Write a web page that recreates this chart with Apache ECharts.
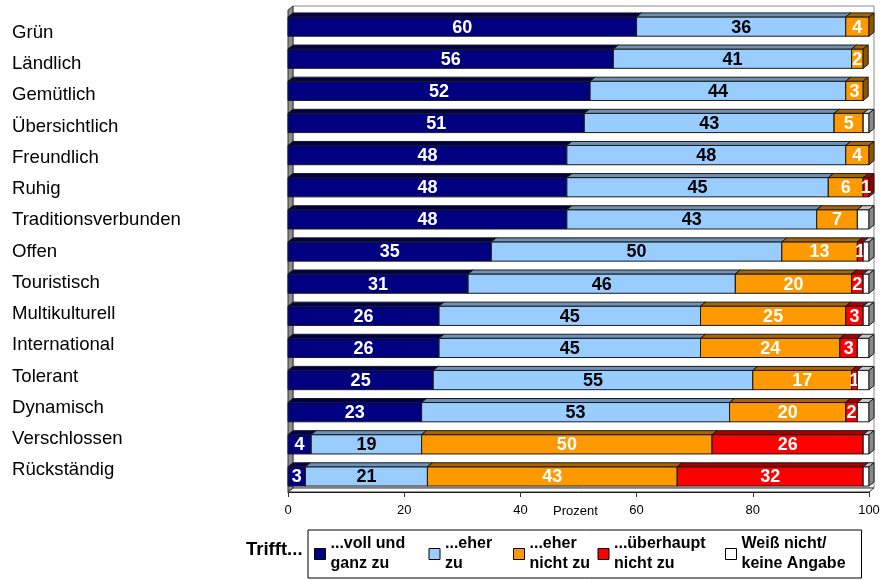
<!DOCTYPE html>
<html>
<head>
<meta charset="utf-8">
<script src="https://cdn.jsdelivr.net/npm/echarts@6/dist/echarts.min.js"></script>
<style>
  html, body { margin: 0; padding: 0; background: #fff; }
  #chart { width: 884px; height: 580px; }
</style>
</head>
<body>
<div id="chart"></div>
<script>
// Image attributes of the town, answers in percent
const categories = ['Grün', 'Ländlich', 'Gemütlich', 'Übersichtlich', 'Freundlich', 'Ruhig',
  'Traditionsverbunden', 'Offen', 'Touristisch', 'Multikulturell', 'International',
  'Tolerant', 'Dynamisch', 'Verschlossen', 'Rückständig'];
const vollUndGanz     = [60, 56, 52, 51, 48, 48, 48, 35, 31, 26, 26, 25, 23, 4, 3];
const eherZu          = [36, 41, 44, 43, 48, 45, 43, 50, 46, 45, 45, 55, 53, 19, 21];
const eherNichtZu     = [4, 2, 3, 5, 4, 6, 7, 13, 20, 25, 24, 17, 20, 50, 43];
const ueberhauptNicht = [0, 0, 0, 0, 0, 1, 0, 1, 2, 3, 3, 1, 2, 26, 32];
const weissNicht      = [0, 0, 0, 1, 0, 0, 2, 1, 1, 1, 2, 2, 2, 1, 1];
const seriesNames = ['...voll und\nganz zu', '...eher\nzu', '...eher\nnicht zu', '...überhaupt\nnicht zu', 'Weiß nicht/\nkeine Angabe'];
const axisMin = 0, axisMax = 100, axisStep = 20;

const FONT = '"Liberation Sans", Arial, Helvetica, sans-serif';
const DX = 5, DY = 4; // depth of the pseudo-3D faces

// front, top and side colours of each answer group
const palette = [
  { front: '#000080', top: '#00004a', side: '#000058', label: '#ffffff' },
  { front: '#99ccff', top: '#6f93b8', side: '#5d7c9c', label: '#000000' },
  { front: '#ff9900', top: '#a96600', side: '#8c5500', label: '#ffffff' },
  { front: '#ff0000', top: '#a80000', side: '#8c0000', label: '#ffffff' },
  { front: '#ffffff', top: '#c8c8c8', side: '#8a8a8a', label: null }
];
const groups = [vollUndGanz, eherZu, eherNichtZu, ueberhauptNicht, weissNicht];

// cumulative start/end of each segment per row
const cumulative = categories.map(() => 0);
const segmentData = groups.map(values => values.map((v, i) => {
  const start = cumulative[i];
  cumulative[i] += v;
  return [i, start, start + v, v];
}));

function barRenderer(style) {
  return function (params, api) {
    const v = api.value(3);
    if (!v) return null;
    const cat = api.value(0);
    const a = api.coord([api.value(1), cat]);
    const b = api.coord([api.value(2), cat]);
    const h = api.size([0, 1])[1] * 0.6;
    const x = a[0], w = b[0] - a[0], y = a[1] - h / 2 + 0.5;
    const stroke = '#1a1a1a';
    const children = [
      { type: 'rect', shape: { x: x, y: y, width: w, height: h },
        style: { fill: style.front, stroke: stroke, lineWidth: 1 } },
      { type: 'polygon', shape: { points: [[x, y], [x + DX, y - DY], [x + w + DX, y - DY], [x + w, y]] },
        style: { fill: style.top, stroke: stroke, lineWidth: 1 } },
      { type: 'polygon', shape: { points: [[x + w, y], [x + w + DX, y - DY], [x + w + DX, y + h - DY], [x + w, y + h]] },
        style: { fill: style.side, stroke: stroke, lineWidth: 1 } }
    ];
    if (style.label) {
      children.push({ type: 'text', style: {
        x: x + w / 2, y: a[1] + 1.5, text: String(v), align: 'center', verticalAlign: 'middle',
        fill: style.label, font: 'bold 18px ' + FONT } });
    }
    return { type: 'group', children: children };
  };
}

// walls and floor of the chart box
function frameRenderer(params, api) {
  const cs = params.coordSys;
  const L = cs.x, T = cs.y, R = cs.x + cs.width, B = cs.y + cs.height;
  return { type: 'group', children: [
    { type: 'rect', shape: { x: L + DX, y: T - DY, width: R - L, height: B - T },
      style: { fill: '#ffffff', stroke: '#8c8c8c', lineWidth: 1 } },
    { type: 'polygon', shape: { points: [[L, B], [L + DX, B - DY], [R + DX, B - DY], [R, B]] },
      style: { fill: '#ffffff', stroke: '#333333', lineWidth: 1 } },
    { type: 'polygon', shape: { points: [[L, B], [L, T], [L + DX, T - DY], [L + DX, B - DY]] },
      style: { fill: '#8c8c8c', stroke: '#333333', lineWidth: 1 } }
  ] };
}

const legendWidths = [98, 68, 68, 111, 114];

const option = {
  backgroundColor: '#ffffff',
  animation: false,
  title: {
    text: 'Trifft...', left: 241, top: 535,
    textStyle: { fontFamily: FONT, fontWeight: 'bold', fontSize: 18.5, color: '#000' }
  },
  legend: {
    left: 308, top: 530, itemGap: 0, itemWidth: 11, itemHeight: 11, icon: 'rect',
    padding: [4, 6, 4, 6], borderColor: '#000', borderWidth: 1, selectedMode: false,
    itemStyle: { borderColor: '#000', borderWidth: 1 },
    textStyle: { fontFamily: FONT, fontWeight: 'bold', fontSize: 16, lineHeight: 20, color: '#000' },
    data: seriesNames.map((n, i) => ({ name: n, textStyle: { width: legendWidths[i] } }))
  },
  grid: [
    { left: 288, right: 15, top: 10, height: 482 },
    { left: 288, right: 15, top: 17, height: 469 }
  ],
  xAxis: [
    { type: 'value', gridIndex: 0, min: axisMin, max: axisMax, interval: axisStep,
      name: 'Prozent', nameLocation: 'middle', nameGap: 13, nameMoveOverlap: false,
      nameTextStyle: { fontFamily: FONT, fontSize: 13, color: '#000', verticalAlign: 'top', padding: [0, 6, 0, 0] },
      axisLine: { show: true, lineStyle: { color: '#000', width: 1 } },
      axisTick: { show: true, length: 5, lineStyle: { color: '#333' } },
      axisLabel: { fontFamily: FONT, fontSize: 13, color: '#000', margin: 12 },
      splitLine: { show: false } },
    { type: 'value', gridIndex: 1, min: axisMin, max: axisMax, show: false }
  ],
  yAxis: [
    { type: 'category', gridIndex: 0, data: categories, inverse: true,
      axisLine: { show: false }, axisTick: { show: false }, axisLabel: { show: false } },
    { type: 'category', gridIndex: 1, data: categories, inverse: true,
      axisLine: { show: false }, axisTick: { show: false },
      axisLabel: { fontFamily: FONT, fontSize: 18.6, color: '#000', margin: 276, align: 'left' } }
  ],
  series: [
    { type: 'custom', name: 'frame', xAxisIndex: 0, yAxisIndex: 0, z: 1, silent: true, clip: false,
      data: [[0, 0, 0, 0]], renderItem: frameRenderer }
  ].concat(segmentData.map((data, k) => ({
    type: 'custom', name: seriesNames[k], xAxisIndex: 0, yAxisIndex: 0, z: 2, clip: false,
    itemStyle: { color: palette[k].front, borderColor: '#000', borderWidth: 1 },
    encode: { x: [1, 2], y: 0 },
    data: data, renderItem: barRenderer(palette[k])
  })))
};

echarts.init(document.getElementById('chart'), null, { renderer: 'canvas' }).setOption(option);
</script>
</body>
</html>
